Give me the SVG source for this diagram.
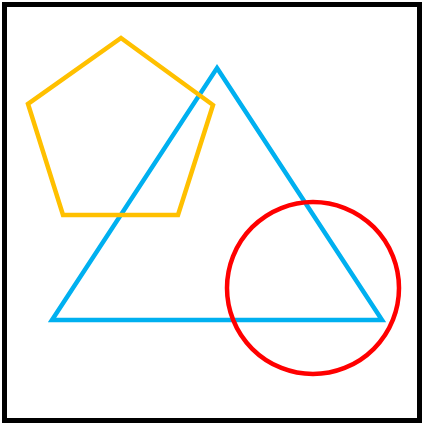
<svg xmlns="http://www.w3.org/2000/svg" width="423" height="424" viewBox="0 0 423 424">
<style>
.s{fill:none;stroke-width:4.5;stroke-linejoin:miter}
</style>
<rect x="0" y="0" width="423" height="424" fill="#ffffff"/>
<rect id="frame" x="4.5" y="4.5" width="415" height="416" fill="none" stroke="#000000" stroke-width="5"/>
<polygon id="triangle" class="s" stroke="#00B0F0" points="217,68 382,320 52,320"/>
<polygon id="pentagon" class="s" stroke="#FFC000" points="121,38 213,105 178,215 63,215 28,104"/>
<circle id="circle" class="s" stroke="#FF0000" cx="313" cy="288" r="86"/>
</svg>
